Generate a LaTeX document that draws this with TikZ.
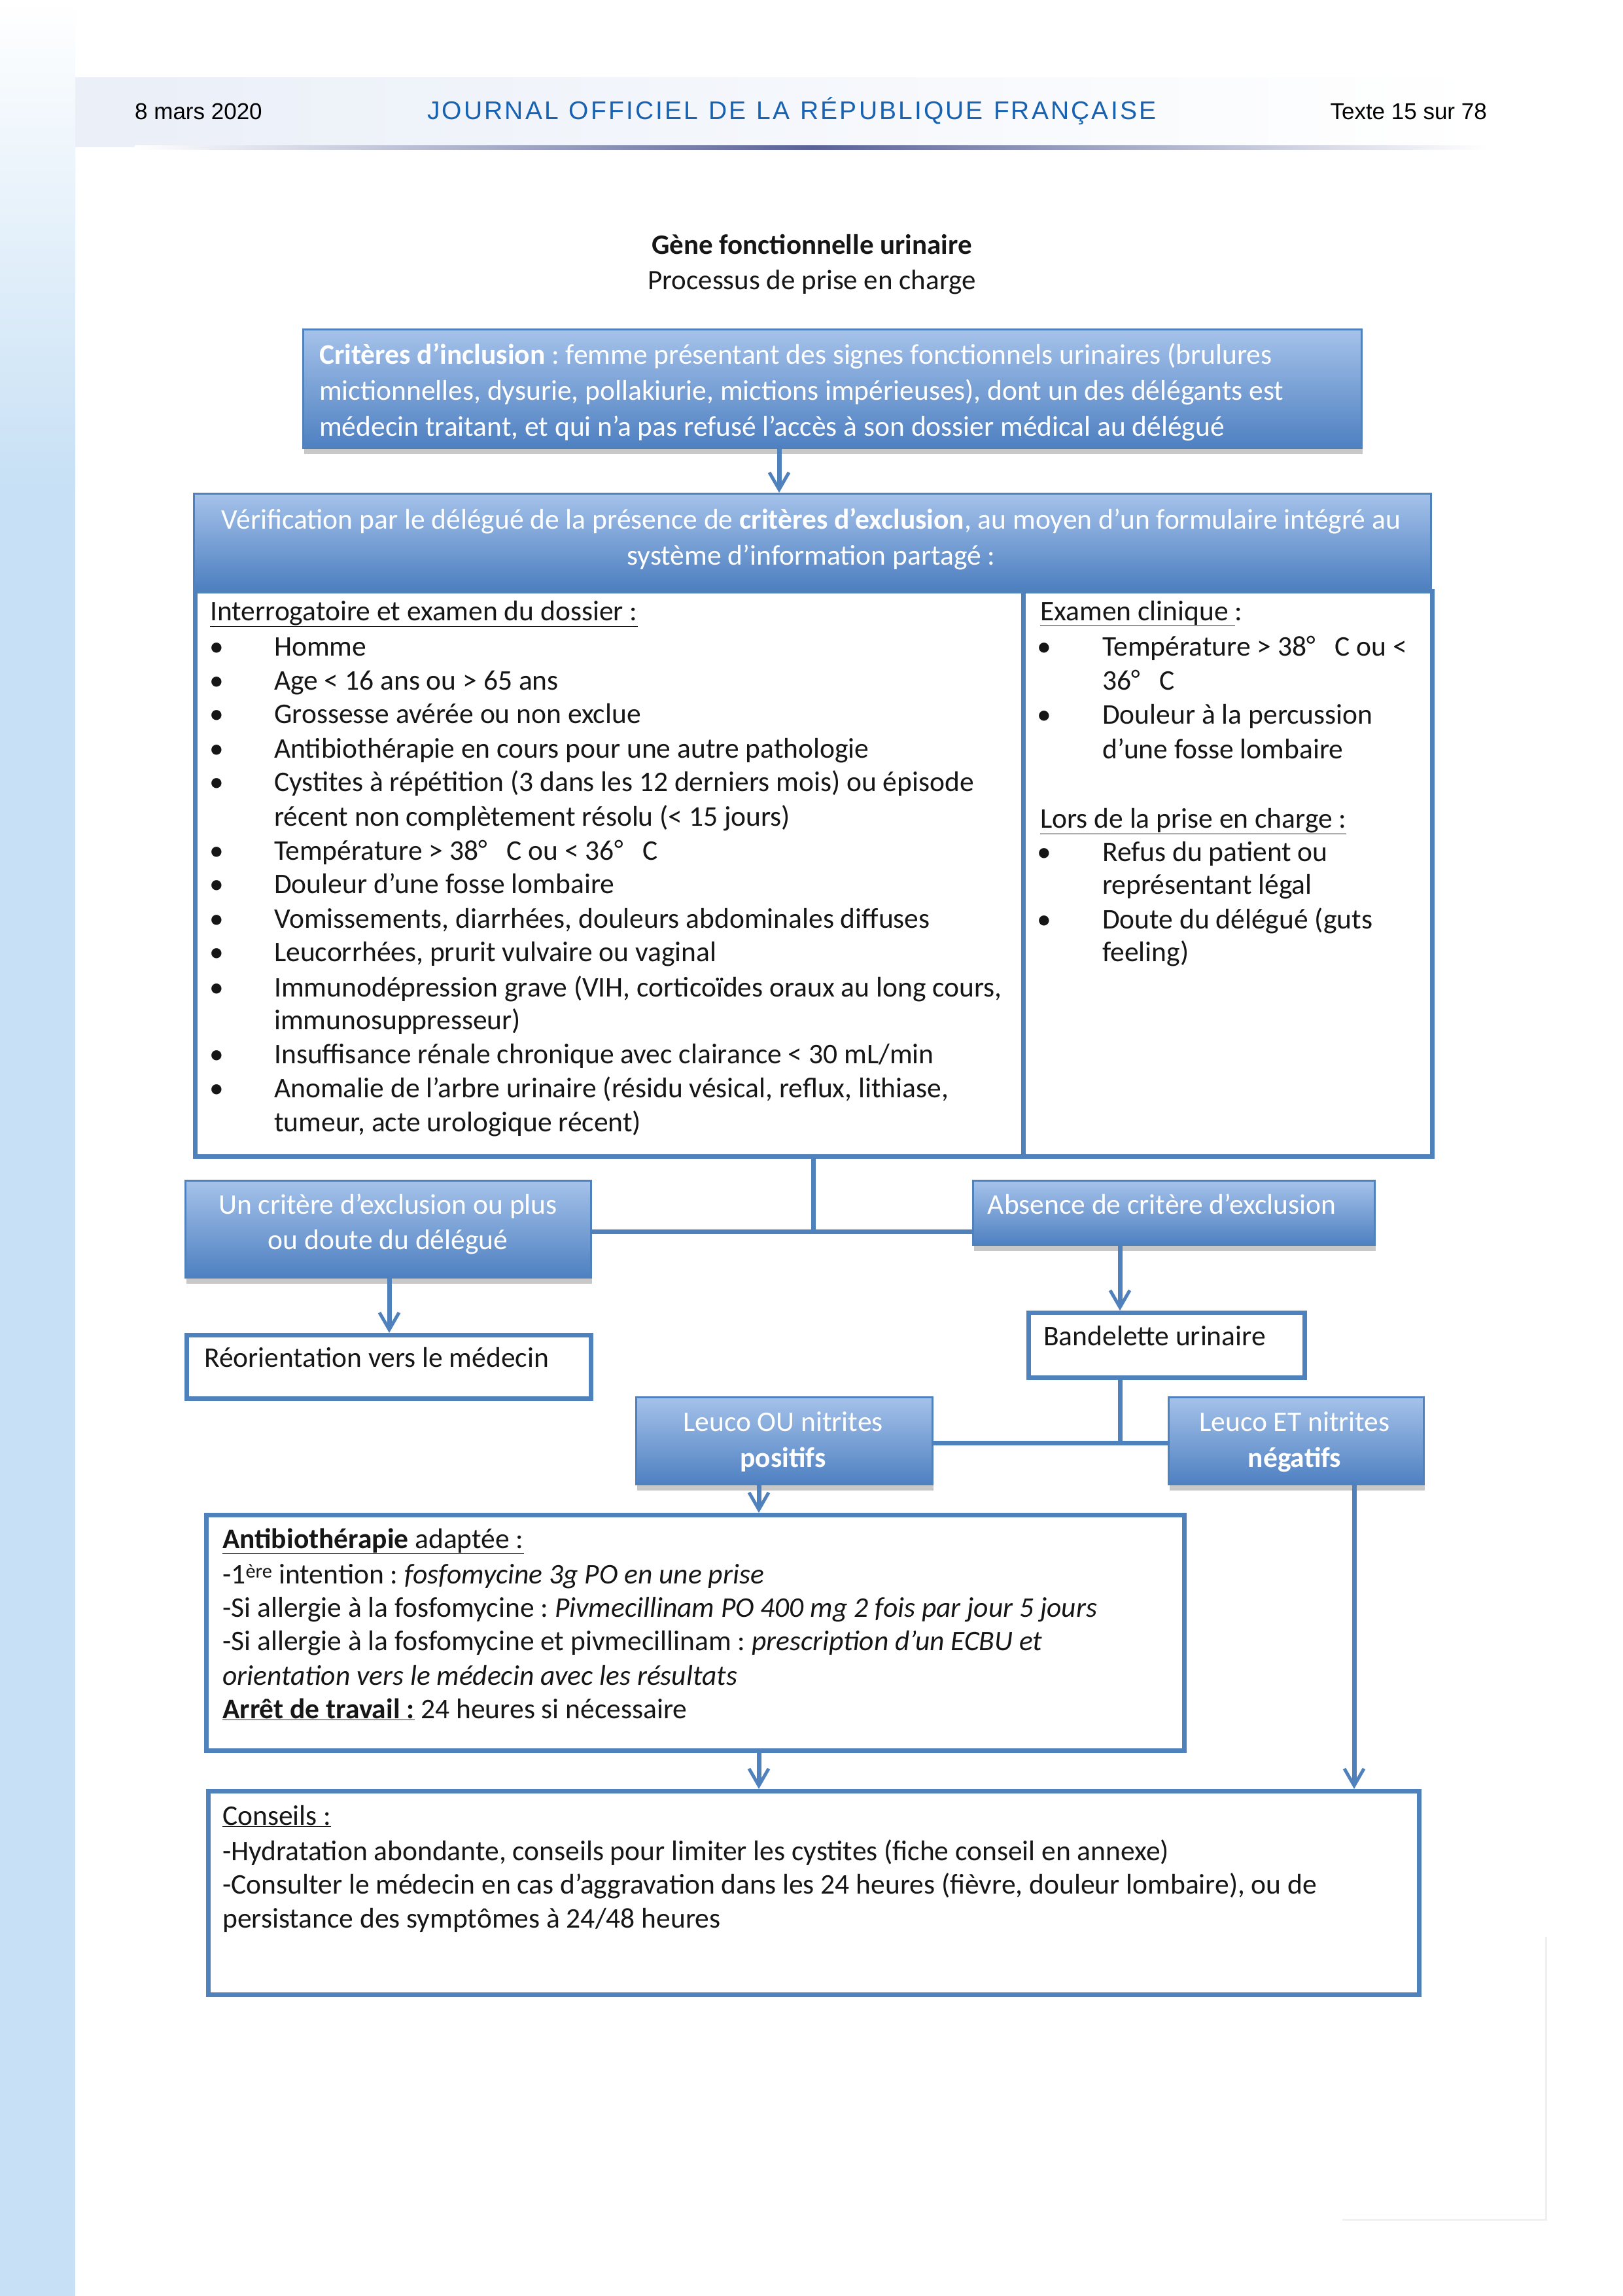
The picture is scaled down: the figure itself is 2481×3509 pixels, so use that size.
\documentclass[tikz,border=0pt]{standalone}
\usepackage{fontspec}
\setmainfont{Carlito}
\newfontfamily\hdrfont{Liberation Sans}
\newfontfamily\jofont[LetterSpace=8]{Liberation Sans}
\usetikzlibrary{arrows.meta,shadows}
\definecolor{jblue}{RGB}{79,129,189}
\definecolor{jtop}{RGB}{165,194,234}
\definecolor{jbot}{RGB}{78,128,193}
\definecolor{jotitle}{RGB}{24,98,178}
\definecolor{stripc}{RGB}{199,224,245}
\definecolor{hdrc}{RGB}{234,239,248}
\definecolor{rulec}{RGB}{88,98,150}
\definecolor{txt}{RGB}{22,22,22}
\newcommand\bodyfs{\fontsize{43.5pt}{52pt}\selectfont}
\newcommand\boxfs{\fontsize{43.5pt}{55pt}\selectfont}
\newcommand\hdrfs{\hdrfont\fontsize{35pt}{40pt}\selectfont}
\newcommand\jofs{\jofont\fontsize{39pt}{44pt}\selectfont}
\newcommand\degr{\textsuperscript{\fontsize{40pt}{40pt}\selectfont\raisebox{-0.35ex}{°}}}
\frenchspacing
\begin{document}
\frenchspacing
\begin{tikzpicture}[x=1pt,y=-1pt,
  gbox/.style={draw=jblue, line width=3pt, top color=jtop, bottom color=jbot, anchor=north west, inner sep=0pt,
    drop shadow={shadow xshift=1pt, shadow yshift=-9pt, opacity=0.3, fill=black!70}},
  wbox/.style={draw=jblue, line width=7pt, fill=white, anchor=north west, inner sep=0pt},
  conn/.style={draw=jblue, line width=7pt},
  arr/.style={conn, -{Straight Barb[length=26pt,width=30pt,line width=5pt]}},
  tx/.style={anchor=base west, inner sep=0pt, text=txt, font=\bodyfs},
  bul/.style={anchor=base, inner sep=0pt, text=txt, font=\bodyfs},
  wt/.style={anchor=base, inner sep=0pt, text=white, font=\boxfs},
  wtl/.style={anchor=base west, inner sep=0pt, text=white, font=\boxfs},
  hdr/.style={inner sep=0pt, font=\hdrfs, text=black}]
\useasboundingbox (0,0) rectangle (2481,3509);
\fill[white] (0,0) rectangle (2481,3509);
% left strip
\shade[top color=white, bottom color=stripc] (0,0) rectangle (115,750);
\fill[stripc] (0,749) rectangle (115,3509);
% header band
\shade[left color=hdrc, right color=white] (115,118) rectangle (2275,224);
\shade[left color=white, right color=white, middle color=rulec] (206,222) rectangle (2275,228);
% faint page frame
\draw[black!6, line width=3pt] (2363,2960) -- (2363,3392) -- (2052,3392);
% header texts
\node[hdr, anchor=base west] (h1) at (206,182) {8 mars 2020};
\node[inner sep=0pt, font=\jofs, text=jotitle, anchor=base west] (h2) at (653,182) {\makebox[1114pt][s]{JOURNAL OFFICIEL DE LA RÉPUBLIQUE FRANÇAISE}};
\node[hdr, anchor=base east] (h3) at (2273,182) {Texte 15 sur 78};
% title
\node[anchor=base, inner sep=0pt, text=txt, font=\bfseries\fontsize{43pt}{50pt}\selectfont] (t1) at (1241,388) {Gène fonctionnelle urinaire};
\node[anchor=base, inner sep=0pt, text=txt, font=\fontsize{43pt}{50pt}\selectfont] (t2) at (1241,442) {Processus de prise en charge};

% boxes
\node[gbox, minimum width=1618pt, minimum height=181pt] (incl) at (462,502) {};
\node[gbox, minimum width=1891pt, minimum height=145pt] (verif) at (295,753) {};
\node[wbox, minimum width=1266pt, minimum height=864pt] (cleft) at (295,900) {};
\node[wbox, minimum width=625pt, minimum height=864pt] (cright) at (1561,900) {};
\node[gbox, minimum width=620pt, minimum height=148pt] (crit) at (282,1803) {};
\node[gbox, minimum width=614pt, minimum height=98pt] (abs) at (1486,1803) {};
\node[wbox, minimum width=618pt, minimum height=97pt] (reor) at (282,2037) {};
\node[wbox, minimum width=422pt, minimum height=99pt] (band) at (1569,2003) {};
\node[gbox, minimum width=453pt, minimum height=133pt] (lou) at (971,2134) {};
\node[gbox, minimum width=390pt, minimum height=133pt] (let) at (1785,2134) {};
\node[wbox, minimum width=1495pt, minimum height=360pt] (antib) at (312,2312) {};
\node[wbox, minimum width=1851pt, minimum height=311pt] (cons) at (315,2734) {};

% connectors
\coordinate (xa) at (1191,0);
\draw[arr] (incl.south -| xa) -- (verif.north -| xa);
\coordinate (j1) at (1243,1882);
\draw[conn] (cleft.south -| j1) -- (j1);
\draw[conn] (crit.east |- j1) -- (abs.west |- j1);
\coordinate (xb) at (595,0);
\draw[arr] (crit.south -| xb) -- (reor.north -| xb);
\coordinate (xc) at (1712,0);
\draw[arr] (abs.south -| xc) -- (band.north -| xc);
\coordinate (j2) at (1712,2205);
\draw[conn] (band.south -| j2) -- (j2);
\draw[conn] (lou.east |- j2) -- (let.west |- j2);
\coordinate (xd) at (1160,0);
\draw[arr] (lou.south -| xd) -- (antib.north -| xd);
\draw[arr] (antib.south -| xd) -- (cons.north -| xd);
\coordinate (xe) at (2070,0);
\draw[arr] (let.south -| xe) -- (cons.north -| xe);

% inclusion text
\node[wtl] (i1) at (488,556) {\textbf{Critères d’inclusion} : femme présentant des signes fonctionnels urinaires (brulures};
\node[wtl] (i2) at (488,611) {mictionnelles, dysurie, pollakiurie, mictions impérieuses), dont un des délégants est};
\node[wtl] (i3) at (488,666) {médecin traitant, et qui n’a pas refusé l’accès à son dossier médical au délégué};
% verification text
\node[wt] (v1) at (1240,808) {Vérification par le délégué de la présence de \textbf{critères d’exclusion}, au moyen d’un formulaire intégré au};
\node[wt] (v2) at (1240,863) {système d’information partagé :};

% left column
\node[tx] (l0) at (321,948) {\underline{Interrogatoire et examen du dossier :}};
\node[bul] (b1) at (331,1002) {•}; \node[tx] (l1) at (419,1002) {Homme};
\node[bul] (b2) at (331,1054) {•}; \node[tx] (l2) at (419,1054) {Age < 16 ans ou > 65 ans};
\node[bul] (b3) at (331,1105) {•}; \node[tx] (l3) at (419,1105) {Grossesse avérée ou non exclue};
\node[bul] (b4) at (331,1158) {•}; \node[tx] (l4) at (419,1158) {Antibiothérapie en cours pour une autre pathologie};
\node[bul] (b5) at (331,1209) {•}; \node[tx] (l5) at (419,1209) {Cystites à répétition (3 dans les 12 derniers mois) ou épisode};
\node[tx] (l5b) at (419,1262) {récent non complètement résolu (< 15 jours)};
\node[bul] (b6) at (331,1314) {•}; \node[tx] (l6) at (419,1314) {Température > 38\degr\ \ \ C ou < 36\degr\ \ \ C};
\node[bul] (b7) at (331,1365) {•}; \node[tx] (l7) at (419,1365) {Douleur d’une fosse lombaire};
\node[bul] (b8) at (331,1418) {•}; \node[tx] (l8) at (419,1418) {Vomissements, diarrhées, douleurs abdominales diffuses};
\node[bul] (b9) at (331,1469) {•}; \node[tx] (l9) at (419,1469) {Leucorrhées, prurit vulvaire ou vaginal};
\node[bul] (b10) at (331,1523) {•}; \node[tx] (l10) at (419,1523) {Immunodépression grave (VIH, corticoïdes oraux au long cours,};
\node[tx] (l10b) at (419,1573) {immunosuppresseur)};
\node[bul] (b11) at (331,1625) {•}; \node[tx] (l11) at (419,1625) {Insuffisance rénale chronique avec clairance < 30 mL/min};
\node[bul] (b12) at (331,1677) {•}; \node[tx] (l12) at (419,1677) {Anomalie de l’arbre urinaire (résidu vésical, reflux, lithiase,};
\node[tx] (l12b) at (419,1729) {tumeur, acte urologique récent)};

% right column
\node[tx] (r0) at (1590,948) {\underline{Examen clinique }:};
\node[bul] (rb1) at (1596,1002) {•}; \node[tx] (r1) at (1685,1002) {Température > 38\degr\ \ \ C ou <};
\node[tx] (r1b) at (1685,1054) {36\degr\ \ \ C};
\node[bul] (rb2) at (1596,1106) {•}; \node[tx] (r2) at (1685,1106) {Douleur à la percussion};
\node[tx] (r2b) at (1685,1159) {d’une fosse lombaire};
\node[tx] (r3) at (1590,1265) {\underline{Lors de la prise en charge :}};
\node[bul] (rb4) at (1596,1316) {•}; \node[tx] (r4) at (1685,1316) {Refus du patient ou};
\node[tx] (r4b) at (1685,1366) {représentant légal};
\node[bul] (rb5) at (1596,1419) {•}; \node[tx] (r5) at (1685,1419) {Doute du délégué (guts};
\node[tx] (r5b) at (1685,1469) {feeling)};

% decision boxes text
\node[wt] (c1) at (593,1855) {Un critère d’exclusion ou plus};
\node[wt] (c2) at (593,1909) {ou doute du délégué};
\node[wt] (a1) at (1776,1855) {Absence de critère d’exclusion};
\node[tx] (ro1) at (312,2089) {Réorientation vers le médecin};
\node[tx] (bu1) at (1595,2056) {Bandelette urinaire};
\node[wt] (p1) at (1197,2187) {Leuco OU nitrites};
\node[wt] (p2) at (1197,2242) {\textbf{positifs}};
\node[wt] (n1) at (1979,2187) {Leuco ET nitrites};
\node[wt] (n2) at (1979,2242) {\textbf{négatifs}};

% antibiotherapy
\node[tx] (ab0) at (340,2366) {\underline{\textbf{Antibiothérapie} adaptée :}};
\node[tx] (ab1) at (340,2420) {-1\textsuperscript{ère} intention : \textit{fosfomycine 3g PO en une prise}};
\node[tx] (ab2) at (340,2471) {-Si allergie à la fosfomycine : \textit{Pivmecillinam PO 400 mg 2 fois par jour 5 jours}};
\node[tx] (ab3) at (340,2522) {-Si allergie à la fosfomycine et pivmecillinam : \textit{prescription d’un ECBU et}};
\node[tx] (ab4) at (340,2575) {\textit{orientation vers le médecin avec les résultats}};
\node[tx] (ab5) at (340,2626) {\underline{\textbf{Arrêt de travail :}} 24 heures si nécessaire};

% conseils
\node[tx] (co0) at (340,2789) {\underline{Conseils :}};
\node[tx] (co1) at (340,2843) {-Hydratation abondante, conseils pour limiter les cystites (fiche conseil en annexe)};
\node[tx] (co2) at (340,2894) {-Consulter le médecin en cas d’aggravation dans les 24 heures (fièvre, douleur lombaire), ou de};
\node[tx] (co3) at (340,2946) {persistance des symptômes à 24/48 heures};
\end{tikzpicture}
\end{document}
